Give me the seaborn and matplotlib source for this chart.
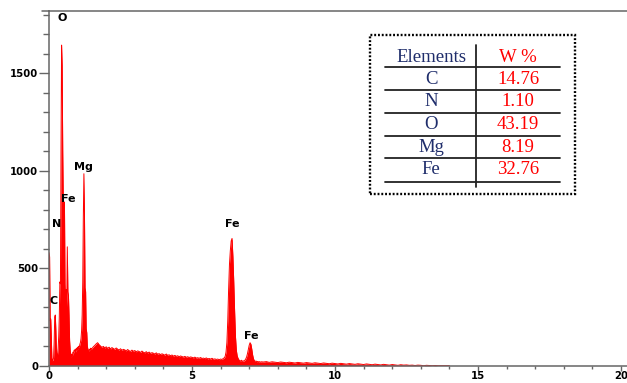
import numpy as np
import pandas as pd
import matplotlib
matplotlib.use("Agg")
import matplotlib.pyplot as plt
from matplotlib.patches import Rectangle
from matplotlib.lines import Line2D
from matplotlib.ticker import MultipleLocator
import seaborn as sns

# ---------------- data ----------------
# segment A: 0.00 - 1.48 keV, channel width 0.02 keV
energy_a = np.round(np.arange(0.0, 1.4801, 0.02), 3)
counts_a = [
    580, 560, 230, 240, 150, 40, 25, 30, 40, 120,
    250, 260, 180, 70, 40, 60, 90, 150, 250, 430,
    420, 1100, 1645, 1540, 1100, 830, 800, 840, 420, 330,
    390, 300, 610, 380, 360, 260, 130, 80, 55, 45,
    60, 50, 70, 65, 80, 75, 85, 70, 90, 80,
    95, 85, 100, 95, 110, 120, 140, 180, 260, 430,
    760, 985, 780, 400, 380, 190, 170, 100, 85, 80,
    75, 85, 80, 90, 85,
]
# segment B: 1.50 - 6.10 keV, channel width 0.05 keV
energy_b = np.round(np.arange(1.50, 6.1001, 0.05), 3)
counts_b = [
    88, 97, 104, 112, 118, 108, 101, 94, 99, 91,
    97, 89, 95, 86, 93, 88, 84, 91, 85, 80,
    87, 79, 84, 81, 76, 83, 77, 73, 80, 74,
    78, 71, 76, 73, 68, 75, 69, 66, 72, 65,
    70, 63, 67, 64, 60, 66, 59, 62, 57, 61,
    58, 54, 60, 53, 56, 51, 55, 49, 53, 48,
    51, 46, 50, 47, 44, 48, 43, 46, 42, 45,
    43, 40, 44, 39, 41, 38, 42, 37, 39, 36,
    40, 35, 37, 34, 38, 33, 35, 32, 34, 31,
    34, 32, 38,
]
# segment C: Fe K region 6.13 - 7.42 keV, channel width 0.03 keV
energy_c = np.round(np.arange(6.13, 7.4201, 0.03), 3)
counts_c = [
    40, 48, 70, 120, 230, 390, 520, 590, 640, 653,
    560, 430, 280, 150, 80, 50, 38, 30, 26, 24,
    28, 22, 25, 24, 28, 35, 45, 62, 85, 105,
    118, 110, 85, 55, 35, 26, 22, 24, 20, 22,
    19, 21, 18, 20,
]
# segment D: 7.5 - 14.0 keV, channel width 0.1 keV
energy_d = np.round(np.arange(7.5, 14.001, 0.1), 3)
counts_d = [
    19, 21, 17, 20, 18, 16, 19, 17, 15, 18,
    16, 14, 17, 15, 13, 16, 14, 12, 15, 13,
    11, 14, 12, 10, 13, 11, 9, 12, 10, 8,
    11, 9, 7, 10, 8, 6, 9, 7, 5, 8,
    6, 4, 7, 5, 3, 6, 4, 2, 5, 3,
    4, 2, 3, 1, 3, 2, 0, 2, 1, 0,
    1, 0, 0, 0, 0, 0,
]

peak_names = ["O", "Mg", "Fe", "N", "C", "Fe", "Fe"]
peak_x = [0.45, 1.22, 0.66, 0.28, 0.17, 6.40, 7.06]
peak_y = [1783, 1019, 855, 727, 332, 727, 152]

x_ticks = [0, 5, 10, 15, 20]
y_ticks = [0, 500, 1000, 1500]

table_header = ["Elements", "W %"]
elements = ["C", "N", "O", "Mg", "Fe"]
wt_percent = ["14.76", "1.10", "43.19", "8.19", "32.76"]

spectrum = pd.DataFrame({
    "energy": np.concatenate([energy_a, energy_b, energy_c, energy_d]),
    "counts": np.concatenate([counts_a, counts_b, counts_c, counts_d]).astype(float),
})

# ---------------- figure ----------------
sns.set_theme(style="white")
plt.rcParams["font.family"] = ["DejaVu Sans"]

W, H = 627, 383
fig = plt.figure(figsize=(W / 100, H / 100), dpi=100)
ax = fig.add_axes([49 / W, 17.3 / H, 1 - 49 / W, (365.7 - 11) / H])

red = "#ff0000"
ax.fill_between(spectrum["energy"], spectrum["counts"], 0, color=red, lw=0)
sns.lineplot(data=spectrum, x="energy", y="counts", color=red, lw=0.7, ax=ax)

ax.set_xlim(0, 20.21)
ax.set_ylim(0, 1820)
ax.set_xlabel("")
ax.set_ylabel("")

ax.set_xticks(x_ticks)
ax.set_yticks(y_ticks)
ax.xaxis.set_minor_locator(MultipleLocator(1))
ax.yaxis.set_minor_locator(MultipleLocator(100))

spine_col = "#666666"
for s in ["left", "bottom", "top"]:
    ax.spines[s].set_visible(True)
    ax.spines[s].set_color(spine_col)
    ax.spines[s].set_linewidth(1.1)
ax.spines["right"].set_visible(False)

ax.tick_params(axis="y", which="major", direction="out", length=7.5, width=1,
               color=spine_col, pad=0.3, labelsize=7.3, left=True)
ax.tick_params(axis="y", which="minor", direction="out", length=4, width=1,
               color=spine_col, left=True)
ax.tick_params(axis="x", which="major", direction="out", length=3.5, width=1,
               color=spine_col, pad=0.5, labelsize=7.3, bottom=True)
ax.tick_params(axis="x", which="minor", direction="out", length=2.5, width=1,
               color=spine_col, bottom=True)
for lab in ax.get_xticklabels() + ax.get_yticklabels():
    lab.set_fontweight("bold")
    lab.set_color("black")

# small extension of the top frame line to the left
ax.plot([-0.012, 0], [1, 1], transform=ax.transAxes, color=spine_col,
        lw=1.1, clip_on=False)

for name, px, py in zip(peak_names, peak_x, peak_y):
    ax.text(px, py, name, ha="center", va="center", fontsize=8,
            fontweight="bold", color="black")

# ---------------- inset composition table ----------------
def fx(px):
    return px / W

def fy(py):
    return 1 - py / H

fig.patches.append(Rectangle((fx(370), fy(194)), fx(575) - fx(370), fy(35) - fy(194),
                             transform=fig.transFigure, fill=False, edgecolor="black",
                             lw=1.7, linestyle=(0, (0.8, 0.8))))
line_col = "#222222"
for yy in [66.7, 90, 112.7, 136, 158.3, 181.7]:
    fig.add_artist(Line2D([fx(385), fx(560)], [fy(yy), fy(yy)], color=line_col, lw=1.3))
fig.add_artist(Line2D([fx(476.5), fx(476.5)], [fy(45), fy(187)], color=line_col, lw=1.3))

navy = "#1f2d6b"
serif = ["Liberation Serif", "DejaVu Serif"]
fsz = 13.5
row_y = [79, 101.5, 124.5, 147, 170]
fig.text(fx(431), fy(57), table_header[0], ha="center", va="center",
         fontsize=fsz, color=navy, family=serif)
fig.text(fx(518), fy(57), table_header[1], ha="center", va="center",
         fontsize=fsz, color=red, family=serif)
for el, wp, yy in zip(elements, wt_percent, row_y):
    fig.text(fx(431), fy(yy), el, ha="center", va="center", fontsize=fsz,
             color=navy, family=serif)
    fig.text(fx(518), fy(yy), wp, ha="center", va="center", fontsize=fsz,
             color=red, family=serif)

fig.savefig("out.png", dpi=100)
